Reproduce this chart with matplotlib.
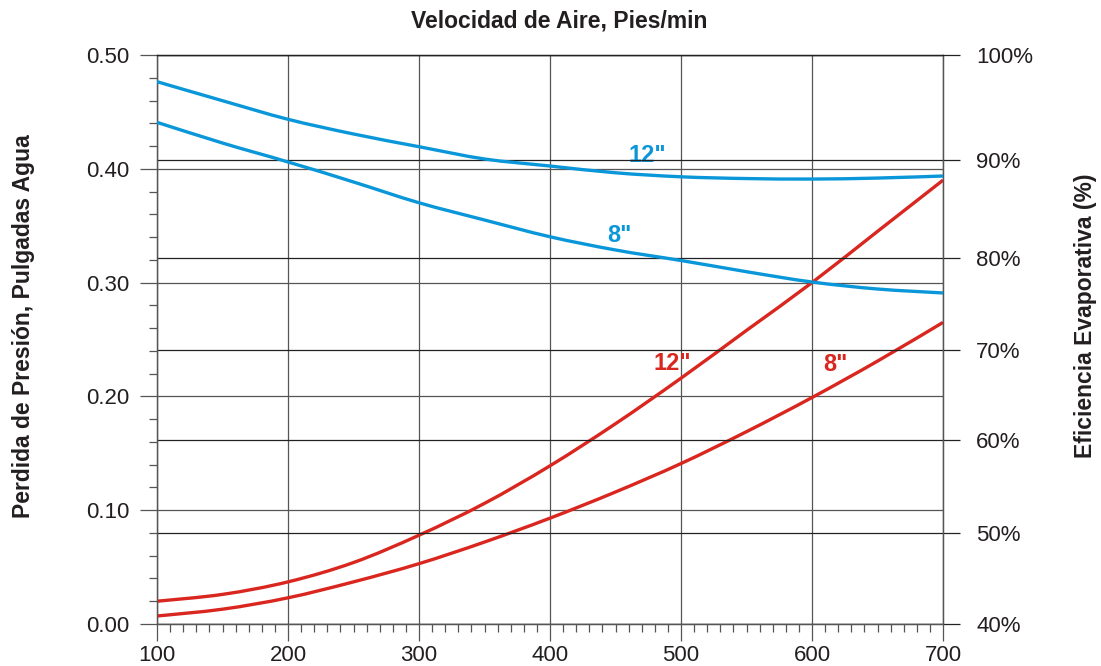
#!/usr/bin/env python3
"""
Perdida de presion y eficiencia evaporativa vs velocidad de aire
"""
import numpy as np
import matplotlib
matplotlib.use('Agg')
import matplotlib.pyplot as plt
from matplotlib.path import Path
from matplotlib.patches import PathPatch
from matplotlib.ticker import MultipleLocator, FixedLocator, FuncFormatter

plt.rcParams['font.family'] = ['Liberation Sans', 'DejaVu Sans']

#--------------------------------------
# Data
#--------------------------------------
velocidad = [100, 150, 200, 250, 300, 350, 400, 450, 500, 550, 600, 650, 700]

# pressure drop, inches of water (left axis)
presion_12 = [0.020, 0.026, 0.037, 0.054, 0.078, 0.106, 0.139, 0.176, 0.216, 0.258, 0.300, 0.345, 0.390]
presion_8 = [0.007, 0.013, 0.023, 0.037, 0.053, 0.072, 0.093, 0.116, 0.141, 0.169, 0.199, 0.231, 0.265]

# evaporative efficiency, % (right axis)
eficiencia_12 = [97.46, 95.65, 93.88, 92.48, 91.27, 90.10, 89.39, 88.70, 88.29, 88.11, 88.06, 88.16, 88.37]
eficiencia_8 = [93.59, 91.62, 89.80, 87.76, 85.64, 83.88, 82.17, 80.82, 79.73, 78.51, 77.39, 76.63, 76.20]

x_ticks = [100, 200, 300, 400, 500, 600, 700]
left_ticks = [0.0, 0.1, 0.2, 0.3, 0.4, 0.5]
right_ticks = [40, 50, 60, 70, 80, 90, 100]

# the right axis of the original is not evenly spaced: where each % tick
# sits, measured in left-axis units
right_anchor = [0.0, 0.080, 0.1617, 0.2408, 0.3216, 0.4077, 0.5]

BLUE = '#0a97da'
RED = '#d9261f'
GRID = '#555555'
DARK = '#222222'
TEXT = '#231f20'

def pct_to_left(v):
    return np.interp(v, right_ticks, right_anchor)

def left_to_pct(v):
    return np.interp(v, right_anchor, right_ticks)

def smooth_curve(ax, xs, ys, color):
    """Draw a smoothed line (Catmull-Rom as cubic Bezier) through the points."""
    p = np.column_stack([xs, ys]).astype(float)
    p = np.vstack([p[0], p, p[-1]])
    verts = [p[1]]
    codes = [Path.MOVETO]
    for i in range(1, len(p) - 2):
        c1 = p[i] + (p[i + 1] - p[i - 1]) / 6.0
        c2 = p[i + 1] - (p[i + 2] - p[i]) / 6.0
        verts += [c1, c2, p[i + 1]]
        codes += [Path.CURVE4] * 3
    patch = PathPatch(Path(verts, codes), facecolor='none', edgecolor=color,
                      lw=2.4, capstyle='butt', zorder=5)
    ax.add_patch(patch)

#--------------------------------------
# Plot
#--------------------------------------
fig = plt.figure(figsize=(11.01, 6.66), dpi=100)
ax = fig.add_axes([0.1426, 0.0631, 0.7139, 0.8543])
ax2 = ax.twinx()
ax2.set_yscale('function', functions=(pct_to_left, left_to_pct))

# curves
smooth_curve(ax, velocidad, presion_12, RED)
smooth_curve(ax, velocidad, presion_8, RED)
smooth_curve(ax2, velocidad, eficiencia_12, BLUE)
smooth_curve(ax2, velocidad, eficiencia_8, BLUE)

ax.set_xlim(100, 700)
ax.set_ylim(0, 0.5)
ax2.set_ylim(40, 100)

# grid and ticks
ax.xaxis.set_major_locator(FixedLocator(x_ticks))
ax.xaxis.set_minor_locator(MultipleLocator(10))
ax.yaxis.set_major_locator(FixedLocator(left_ticks))
ax.yaxis.set_minor_locator(MultipleLocator(0.02))
ax.yaxis.set_major_formatter(FuncFormatter(lambda v, p: '%.2f' % v))
ax2.yaxis.set_major_locator(FixedLocator(right_ticks))
ax2.yaxis.set_minor_locator(FixedLocator([]))
ax2.yaxis.set_major_formatter(FuncFormatter(lambda v, p: '%d%%' % round(v)))

ax.grid(True, which='major', color=GRID, lw=0.9)
ax2.grid(True, which='major', axis='y', color=DARK, lw=0.9)

ax.tick_params(axis='both', which='major', direction='out', length=12,
               width=0.9, color=GRID, labelsize=16, labelcolor=TEXT)
ax.tick_params(axis='both', which='minor', direction='out', length=6,
               width=0.9, color=GRID)
ax.tick_params(axis='y', which='major', pad=8)
ax.tick_params(axis='x', which='major', pad=3)
ax2.tick_params(axis='y', which='major', direction='out', length=12,
                width=0.9, color=DARK, labelsize=16, labelcolor=TEXT, pad=12)

for a in (ax, ax2):
    for s in a.spines.values():
        s.set_color(GRID)
        s.set_linewidth(0.9)
    a.spines['top'].set_color(DARK)

# curve labels
lbl = dict(fontsize=17, fontweight='bold', ha='center', va='center', zorder=6)
ax.text(474, 0.412, '12"', color=BLUE, **lbl)
ax.text(453, 0.341, '8"', color=BLUE, **lbl)
ax.text(493, 0.229, '12"', color=RED, **lbl)
ax.text(618, 0.228, '8"', color=RED, **lbl)

# axis titles
fig.text(0.508, 0.969, 'Velocidad de Aire, Pies/min', fontsize=16.5,
         fontweight='bold', ha='center', va='center', color=TEXT)
ax.set_ylabel('Perdida de Presión, Pulgadas Agua', fontsize=16.5,
              fontweight='bold', color=TEXT)
ax.yaxis.set_label_coords(-0.1555, 0.524)
ax2.set_ylabel('Eficiencia Evaporativa (%)', fontsize=16.5,
               fontweight='bold', color=TEXT, rotation=90)
ax2.yaxis.set_label_coords(1.167, 0.541)

fig.savefig('out.png', dpi=100)
